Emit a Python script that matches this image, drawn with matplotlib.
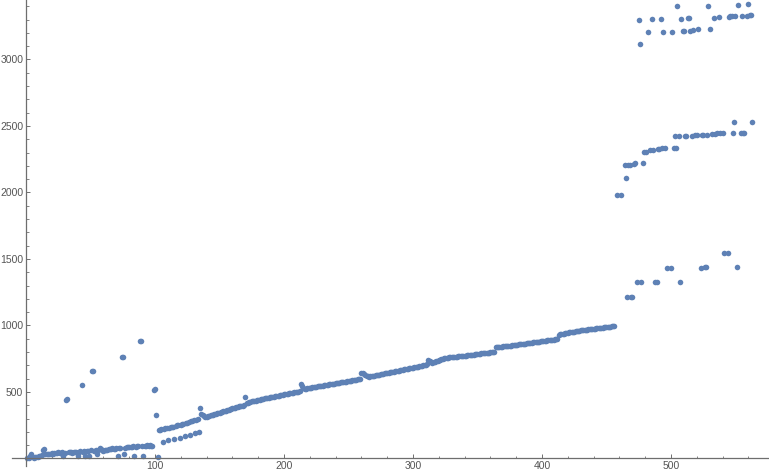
import matplotlib
matplotlib.use('Agg')
import matplotlib.pyplot as plt
from matplotlib.ticker import MultipleLocator, FixedLocator

# Serie principal, un valor por cada x = 1, 2, 3, ...
tramo_a = [0, 5, 20, 30, 10, 5, 10, 8, 12, 15,
           20, 25, 65, 70, 30, 32, 35, 33, 36, 38,
           35, 40, 38, 42, 45, 40, 38, 45, 15, 42,
           441, 449, 48, 45, 50, 42, 48, 50, 52, 20,
           50, 55, 550, 52, 55, 20, 58, 55, 17, 60,
           660, 660, 58, 62, 30, 65, 75, 70, 60, 55,
           62, 65, 60, 68, 70, 72, 75, 72, 70, 76,
           17, 78, 80, 765, 765, 35, 82, 85, 84, 86,
           88, 85, 90, 17, 88, 92, 90, 880, 880, 95,
           17, 96, 95, 98, 97, 100, 97, 97, 511, 521,
           325, 8]                                   # x 1-102
tramo_b = [212, 215, 218, 125, 222, 225, 228, 137,
           232, 235, 238, 240, 147, 245, 248, 250, 155, 255,
           258, 262, 167, 265, 268, 272, 174, 278, 282, 286,
           192, 290, 297, 200, 376, 337, 325, 318, 312]  # x 103-139
tramo_c = [315, 318, 320, 323, 326, 329, 332, 335, 338, 341,
           344, 347, 350, 353, 356, 360, 363, 366, 370, 373,
           376, 379, 382, 385, 388, 391, 393, 395, 397, 400,
           464]                                      # x 140-170
tramo_d = [416, 420, 422, 425, 428, 430, 432, 435, 437, 440,
           442, 444, 447, 449, 451, 453, 455, 457, 459, 461,
           463, 465, 467, 469, 471, 473, 475, 477, 479, 481,
           483, 485, 487, 489, 491, 493, 495, 496, 498, 500, 502, 504]  # x 171-212
tramo_e = [556, 545, 533, 525, 524, 526, 528, 530,
           532, 534, 536, 537, 539, 541, 543, 544, 546, 548,
           550, 551, 553, 555, 557, 558, 560, 562, 563, 565,
           567, 568, 570, 572, 573, 575, 577, 578, 580, 582,
           583, 585, 587, 588, 590, 592, 594, 596, 600]  # x 213-259
tramo_f = [646, 640, 632, 625, 620, 616, 615, 617, 619, 621,
           623, 625, 627, 629, 631, 633, 635, 637, 639, 641,
           643, 645, 647, 649, 651, 653, 655, 657, 659, 661,
           663, 665, 667, 669, 671, 673, 675, 677, 679, 681,
           683, 685, 687, 689, 691, 693, 695, 697, 699, 701, 704, 708]  # x 260-311
tramo_g = [740, 734, 726, 721, 724, 728, 732, 736,
           740, 743, 746, 749, 752, 754, 756, 758, 760, 761,
           762, 763, 764, 765, 766, 767, 768, 769, 770, 771,
           772, 773, 775, 776, 777, 778, 780, 781, 782, 783,
           785, 786, 787, 789, 790, 791, 792, 794, 795, 796, 797, 798, 799, 800]  # x 312-363
tramo_h = [835, 837, 838, 839, 840, 841, 842,
           843, 844, 845, 847, 848, 849, 850, 852, 853, 855,
           856, 857, 859, 860, 861, 863, 864, 865, 867, 868,
           869, 871, 872, 874, 875, 876, 878, 879, 880, 882,
           883, 884, 886, 887, 888, 890, 891, 892, 894, 895, 896, 898]  # x 364-412
tramo_i = [925, 932, 935, 937, 939, 941, 943, 945,
           947, 948, 950, 952, 954, 955, 957, 958, 960, 962,
           963, 964, 966, 967, 968, 970, 971, 972, 973, 975,
           976, 977, 978, 980, 981, 982, 983, 985, 986, 988,
           989, 990, 991, 993, 994, 995]             # x 413-456

principal_y = tramo_a + tramo_b + tramo_c + tramo_d + tramo_e + tramo_f + tramo_g + tramo_h + tramo_i
principal_x = list(range(1, len(principal_y) + 1))

# Parte final: tres grupos de puntos
final_x = [458, 461, 464, 465, 466, 467, 468, 469, 470, 471, 472, 474, 475, 476, 477,
           478, 479, 481, 482, 484, 485, 486, 488, 489, 490, 491, 492, 493, 494, 495,
           497, 500, 501, 502, 503, 504, 505, 506, 507, 508, 509, 510, 511, 512, 513,
           514, 515, 516, 517, 519, 520, 521, 523, 524, 525, 526, 527, 528, 529, 530,
           532, 533, 534, 536, 537, 538, 540, 541, 544, 545, 546, 547, 548, 549, 550,
           551, 552, 554, 555, 556, 557, 559, 560, 561, 562, 563]
final_y = [1980, 1980, 2204, 2112, 1217, 2209, 2209, 1217, 1217, 2212, 2219, 1329, 3296, 3117, 1329,
           2219, 2306, 2306, 3207, 2316, 3304, 2316, 1329, 1329, 2324, 2324, 3304, 2331, 3207, 2331,
           1434, 1434, 3207, 2331, 2421, 2331, 3401, 2421, 1329, 3304, 3214, 3214, 2421, 2421, 3311,
           3311, 3214, 2421, 3219, 2429, 2429, 3229, 1434, 2429, 2429, 1441, 1441, 2434, 3401, 3229,
           2436, 3314, 2436, 2444, 3319, 2444, 2444, 1546, 1546, 3319, 3326, 3326, 2444, 2526, 3326,
           1441, 3409, 2444, 3326, 2444, 2444, 3326, 3416, 3334, 3334, 2526]

color_punto = '#5E81B5'
gris = '#6e6e6e'

fig = plt.figure(figsize=(7.69, 4.75), dpi=100)
ax = fig.add_axes([12 / 769, 9 / 475, 757 / 769, 466 / 475])

ax.plot(principal_x, principal_y, 'o', color=color_punto, ms=4.0, mew=0)
ax.plot(final_x, final_y, 'o', color=color_punto, ms=4.0, mew=0)

ax.set_xlim(-10.9, 576)
ax.set_ylim(-57, 3447)

# Ejes cruzando en el origen
for lado in ['top', 'right']:
    ax.spines[lado].set_visible(False)
ax.spines['left'].set_position(('data', 0))
ax.spines['bottom'].set_position(('data', 0))
for lado in ['left', 'bottom']:
    ax.spines[lado].set_color(gris)
    ax.spines[lado].set_linewidth(0.9)

ax.xaxis.set_major_locator(FixedLocator([100, 200, 300, 400, 500]))
ax.xaxis.set_minor_locator(MultipleLocator(20))
ax.yaxis.set_major_locator(FixedLocator([500, 1000, 1500, 2000, 2500, 3000]))
ax.yaxis.set_minor_locator(MultipleLocator(100))

ax.tick_params(which='major', direction='in', length=2.8, width=0.7, color=gris,
               labelsize=7.5, labelcolor='#555555', pad=2)
ax.tick_params(which='minor', direction='in', length=1.8, width=0.6, color=gris)
for lbl in ax.get_xticklabels() + ax.get_yticklabels():
    lbl.set_family('Liberation Sans')

fig.savefig('out.png', dpi=100)
